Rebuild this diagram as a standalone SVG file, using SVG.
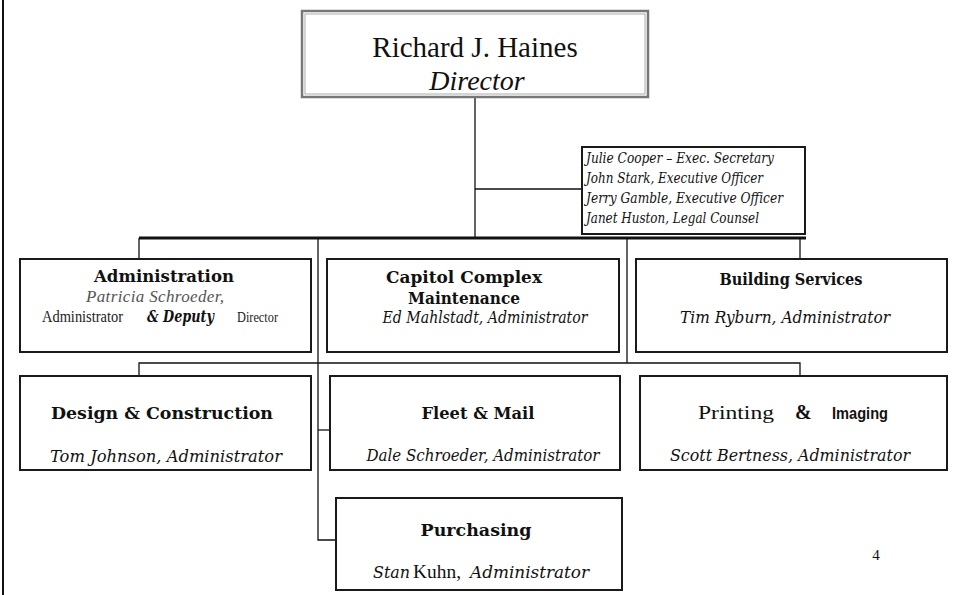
<svg xmlns="http://www.w3.org/2000/svg" width="953" height="595" viewBox="0 0 953 595">
<defs>
<style>
.box{fill:#fff;stroke:#1a1a1a;stroke-width:2}
.ln{fill:none;stroke:#111;stroke-width:1.3}
.t{font-family:"Liberation Serif","DejaVu Serif",serif;fill:#111;text-anchor:middle}
.ti{font-family:"DejaVu Serif","Liberation Serif",serif;font-style:italic;fill:#111;text-anchor:middle;font-size:16px}
.tb{font-family:"DejaVu Serif","Liberation Serif",serif;font-weight:bold;fill:#111;text-anchor:middle;font-size:17px}
.ex{font-family:"DejaVu Serif","Liberation Serif",serif;font-style:italic;fill:#111;font-size:14px}
</style>
</defs>
<rect width="953" height="595" fill="#fff"/>
<line x1="3" y1="0" x2="3" y2="595" stroke="#111" stroke-width="2"/>

<g id="connectors">
<path class="ln" d="M475 97 V238"/>
<path class="ln" d="M475 189 H582"/>
<path d="M139 238 H806" fill="none" stroke="#111" stroke-width="3"/>
<path class="ln" d="M139 238 V259"/>
<path class="ln" d="M800 238 V259"/>
<path class="ln" d="M627 238 V363"/>
<path class="ln" d="M318 238 V540 H336"/>
<path class="ln" d="M318 430 H330"/>
<path class="ln" d="M139 376 V363 H800 V376"/>
</g>

<g id="director">
<rect x="302" y="11" width="346" height="86" fill="#fff" stroke="#777" stroke-width="2.5"/>
<rect x="305" y="14" width="340" height="80" fill="none" stroke="#aaa" stroke-width="1"/>
<text class="t" x="475" y="57" font-size="29">Richard J. Haines</text>
<text class="t" x="477" y="90" font-size="28" font-style="italic">Director</text>
</g>

<g id="exec-staff">
<rect class="box" x="582" y="147" width="223" height="87" stroke-width="1.8"/>
<text class="ex" x="586" y="163" textLength="188" lengthAdjust="spacingAndGlyphs">Julie Cooper – Exec. Secretary</text>
<text class="ex" x="586" y="183" textLength="177" lengthAdjust="spacingAndGlyphs">John Stark, Executive Officer</text>
<text class="ex" x="586" y="203" textLength="197" lengthAdjust="spacingAndGlyphs">Jerry Gamble, Executive Officer</text>
<text class="ex" x="586" y="223" textLength="173" lengthAdjust="spacingAndGlyphs">Janet Huston, Legal Counsel</text>
</g>

<g id="administration">
<rect class="box" x="20" y="259" width="291" height="93"/>
<text class="tb" x="164" y="282" textLength="140" lengthAdjust="spacingAndGlyphs">Administration</text>
<text x="86" y="302" font-family="Liberation Serif, serif" font-style="italic" font-size="17" fill="#555" textLength="138" lengthAdjust="spacing">Patricia Schroeder,</text>
<text x="42" y="322" font-family="Liberation Serif, serif" font-size="17" fill="#222" textLength="81" lengthAdjust="spacingAndGlyphs">Administrator</text>
<text x="147" y="322" font-family="DejaVu Serif, serif" font-style="italic" font-weight="bold" font-size="16" fill="#111" textLength="67" lengthAdjust="spacingAndGlyphs">&amp; Deputy</text>
<text x="237" y="322" font-family="Liberation Serif, serif" font-size="15" fill="#222" textLength="41" lengthAdjust="spacingAndGlyphs">Director</text>
</g>

<g id="capitol">
<rect class="box" x="327" y="259" width="292" height="93"/>
<text class="tb" x="464" y="283" textLength="156" lengthAdjust="spacingAndGlyphs">Capitol Complex</text>
<text class="tb" x="464" y="304" textLength="112" lengthAdjust="spacingAndGlyphs">Maintenance</text>
<text class="ti" x="485" y="323" textLength="205" lengthAdjust="spacingAndGlyphs">Ed Mahlstadt, Administrator</text>
</g>

<g id="building">
<rect class="box" x="636" y="259" width="311" height="93"/>
<text class="tb" x="791" y="285" textLength="143" lengthAdjust="spacingAndGlyphs">Building Services</text>
<text class="ti" x="785" y="323" textLength="210" lengthAdjust="spacingAndGlyphs">Tim Ryburn, Administrator</text>
</g>

<g id="design">
<rect class="box" x="20" y="376" width="291" height="94"/>
<text class="tb" x="162" y="419" textLength="222" lengthAdjust="spacingAndGlyphs">Design &amp; Construction</text>
<text class="ti" x="166" y="462" textLength="232" lengthAdjust="spacingAndGlyphs">Tom Johnson, Administrator</text>
</g>

<g id="fleet">
<rect class="box" x="330" y="376" width="290" height="94"/>
<text class="tb" x="478" y="419" textLength="113" lengthAdjust="spacingAndGlyphs">Fleet &amp; Mail</text>
<text class="ti" x="483" y="461" textLength="233" lengthAdjust="spacingAndGlyphs">Dale Schroeder, Administrator</text>
</g>

<g id="printing">
<rect class="box" x="640" y="376" width="307" height="94"/>
<text x="698" y="419" font-family="Liberation Serif, serif" font-size="19" fill="#111" textLength="76" lengthAdjust="spacingAndGlyphs">Printing</text>
<text x="795" y="419" font-family="Liberation Serif, serif" font-size="20" font-weight="bold" fill="#111">&amp;</text>
<text x="832" y="419" font-family="Liberation Sans, Arial, sans-serif" font-size="17" font-weight="bold" fill="#111" textLength="56" lengthAdjust="spacingAndGlyphs">Imaging</text>
<text class="ti" x="790" y="461" textLength="240" lengthAdjust="spacingAndGlyphs">Scott Bertness, Administrator</text>
</g>

<g id="purchasing">
<rect class="box" x="336" y="498" width="286" height="92"/>
<text class="tb" x="476" y="536" font-size="19" textLength="111" lengthAdjust="spacingAndGlyphs">Purchasing</text>
<text x="373" y="578" font-family="DejaVu Serif, serif" font-style="italic" font-size="16" fill="#111" textLength="37" lengthAdjust="spacingAndGlyphs">Stan</text>
<text x="413" y="578" font-family="Liberation Serif, serif" font-size="18" fill="#111" textLength="48" lengthAdjust="spacingAndGlyphs">Kuhn,</text>
<text x="470" y="578" font-family="DejaVu Serif, serif" font-style="italic" font-size="16" fill="#111" textLength="119" lengthAdjust="spacingAndGlyphs">Administrator</text>
</g>

<text x="876" y="560" font-family="Liberation Serif, serif" font-size="15" fill="#111" text-anchor="middle">4</text>
</svg>
